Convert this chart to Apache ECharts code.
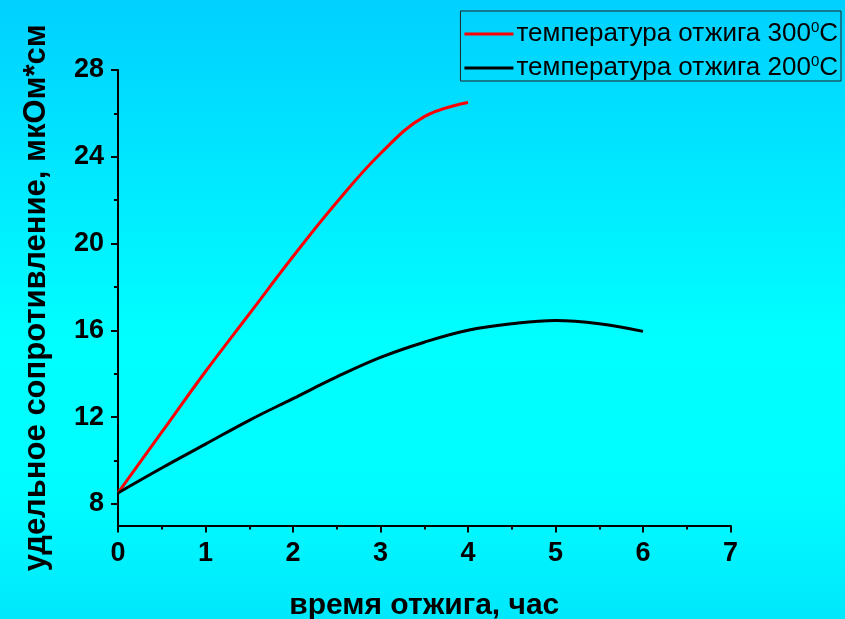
<!DOCTYPE html>
<html>
<head>
<meta charset="utf-8">
<script src="https://cdn.jsdelivr.net/npm/echarts@6/dist/echarts.min.js"></script>
<style>
  html, body { margin: 0; padding: 0; }
  #chart { width: 845px; height: 619px; }
</style>
</head>
<body>
<div id="chart"></div>
<script>
// Annealing time, hours
const timeHours = [0, 0.5, 1, 1.5, 2, 2.5, 3, 3.5, 4, 4.5, 5, 5.5, 6];

// Resistivity, μΩ·cm, annealing at 300 °C (0 … 4 h)
const rho300 = [8.5, 11.3, 14.1, 16.75, 19.4, 21.9, 24.15, 25.85, 26.5];
// Resistivity, μΩ·cm, annealing at 200 °C (0 … 6 h)
const rho200 = [8.5, 9.65, 10.75, 11.85, 12.85, 13.85, 14.75, 15.45, 16.0, 16.3, 16.45, 16.3, 15.95];

const seriesNames = ['температура отжига 300', 'температура отжига 200'];
const yMajorTicks = [8, 12, 16, 20, 24, 28];
const yMinorTicks = [10, 14, 18, 22, 26];

const pairs = (xs, ys) => ys.map((y, i) => [xs[i], y]);

const chart = echarts.init(document.getElementById('chart'));

const FONT = 'Liberation Sans, Arial, sans-serif';
const tickLabelStyle = {
  color: '#000',
  fontFamily: FONT,
  fontWeight: 'bold',
  fontSize: 27
};

chart.setOption({
  backgroundColor: {
    type: 'linear', x: 0, y: 0, x2: 0, y2: 1,
    colorStops: [
      { offset: 0, color: '#00d0ff' },
      { offset: 0.55, color: '#00ffff' },
      { offset: 0.8, color: '#00fcff' },
      { offset: 1, color: '#00e8fc' }
    ]
  },
  animation: false,
  grid: { left: 118, top: 70, right: 114.5, bottom: 93.5, outerBoundsMode: 'none', containLabel: false },
  legend: {
    orient: 'vertical',
    right: 4,
    top: 11,
    itemWidth: 49,
    itemHeight: 3,
    itemGap: 7,
    padding: [9, 3, 0, 4],
    borderColor: '#222',
    borderWidth: 1,
    backgroundColor: 'transparent',
    icon: 'rect',
    data: seriesNames,
    formatter: name => name + '{sup|0}C',
    textStyle: {
      color: '#000',
      fontFamily: FONT,
      fontSize: 26,
      padding: [0, 0, 0, -2],
      rich: {
        sup: { fontSize: 15, padding: [0, 0, 13, 0], fontFamily: FONT, color: '#000' }
      }
    }
  },
  xAxis: {
    type: 'value',
    min: 0, max: 7, interval: 1,
    name: 'время отжига, час',
    nameLocation: 'middle',
    nameGap: 65,
    nameTextStyle: { color: '#000', fontFamily: FONT, fontWeight: 'bold', fontSize: 30 },
    axisLine: { onZero: false, lineStyle: { color: '#000', width: 2 } },
    axisTick: { length: 7, lineStyle: { color: '#000', width: 2 } },
    minorTick: { show: true, splitNumber: 2, length: 4, lineStyle: { color: '#000', width: 2 } },
    axisLabel: Object.assign({ margin: 15 }, tickLabelStyle),
    splitLine: { show: false }
  },
  yAxis: [
    {
      type: 'value',
      min: 7, max: 28,
      name: 'удельное сопротивление, мкОм*см',
      nameLocation: 'middle',
      nameGap: 66,
      nameTextStyle: { color: '#000', fontFamily: FONT, fontWeight: 'bold', fontSize: 31 },
      axisLine: { show: true, onZero: false, lineStyle: { color: '#000', width: 2 } },
      axisTick: { show: true, length: 7, customValues: yMajorTicks, lineStyle: { color: '#000', width: 2 } },
      axisLabel: Object.assign({ margin: 14, customValues: yMajorTicks }, tickLabelStyle),
      splitLine: { show: false }
    },
    {
      // minor ticks halfway between the labelled values
      type: 'value',
      min: 7, max: 28,
      position: 'left',
      axisLine: { show: false },
      axisTick: { show: true, length: 4, customValues: yMinorTicks, lineStyle: { color: '#000', width: 2 } },
      axisLabel: { show: false, customValues: yMinorTicks },
      splitLine: { show: false }
    }
  ],
  series: [
    {
      name: seriesNames[0],
      type: 'line',
      data: pairs(timeHours, rho300),
      smooth: 0.4,
      symbol: 'none',
      lineStyle: { color: '#ff0000', width: 3 },
      itemStyle: { color: '#ff0000' }
    },
    {
      name: seriesNames[1],
      type: 'line',
      data: pairs(timeHours, rho200),
      smooth: 0.4,
      symbol: 'none',
      lineStyle: { color: '#000000', width: 3 },
      itemStyle: { color: '#000000' }
    }
  ]
});
</script>
</body>
</html>
